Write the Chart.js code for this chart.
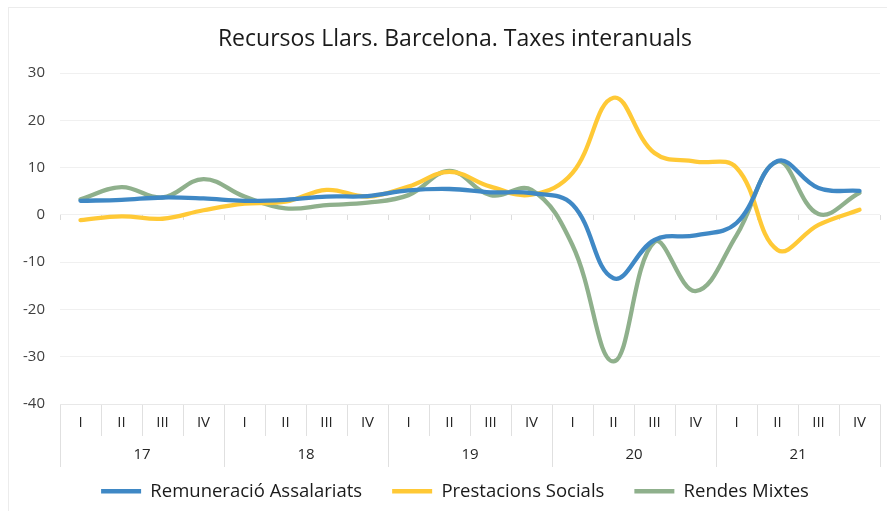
<!DOCTYPE html>
<html>
<head>
<meta charset="utf-8">
<script src="https://cdn.jsdelivr.net/npm/chart.js@4/dist/chart.umd.min.js"></script>
<style>
  html, body { margin: 0; padding: 0; background: #fff; }
  #wrap { position: relative; width: 887px; height: 511px; overflow: hidden; }
  #frame { position: absolute; left: 8px; top: 7px; width: 1000px; height: 1000px; border: 1px solid #ececec; box-sizing: border-box; }
  canvas { position: absolute; left: 0; top: 0; }
</style>
</head>
<body>
<div id="wrap">
  <div id="frame"></div>
  <canvas id="c" width="887" height="511"></canvas>
</div>
<script>
// ---- data ----
const quarters = ['I','II','III','IV','I','II','III','IV','I','II','III','IV','I','II','III','IV','I','II','III','IV'];
const years = ['17','18','19','20','21'];
const remuneracio = [3.0, 3.2, 3.7, 3.5, 3.0, 3.2, 3.9, 4.0, 5.2, 5.5, 4.8, 4.6, 2.2, -13.4, -5.3, -4.3, -1.7, 11.4, 5.7, 5.1];
const prestacions = [-1.1, -0.3, -0.8, 1.0, 2.4, 2.8, 5.3, 3.9, 6.0, 9.1, 6.0, 4.3, 8.9, 24.8, 13.1, 11.3, 10.0, -7.4, -2.1, 1.1];
const rendes = [3.3, 5.9, 3.7, 7.6, 3.9, 1.4, 2.1, 2.6, 4.2, 9.3, 4.2, 5.3, -6.4, -31.0, -5.7, -16.1, -4.3, 11.3, 0.2, 4.7];
const seriesNames = ['Remuneració Assalariats', 'Prestacions Socials', 'Rendes Mixtes'];
const yTicks = { min: -40, max: 30, step: 10 };

const FONT = "'Open Sans', sans-serif";
const colors = ['#3f88c5', '#ffc936', '#8fb08c'];

function ds(label, data, color) {
  return {
    label, data,
    borderColor: color, backgroundColor: color,
    borderWidth: 4.3, tension: 0.4, pointRadius: 0, pointHoverRadius: 0,
    borderCapStyle: 'round', borderJoinStyle: 'round', pointStyle: 'line'
  };
}

// move the legend row up a little (legend padding is also used as row spacing)
const legendShift = {
  id: 'legendShift',
  afterLayout(chart) {
    if (chart.legend) { chart.legend.top -= 15; }
  }
};

new Chart(document.getElementById('c'), {
  type: 'line',
  data: {
    labels: quarters,
    datasets: [
      ds(seriesNames[0], remuneracio, colors[0]),
      ds(seriesNames[1], prestacions, colors[1]),
      ds(seriesNames[2], rendes, colors[2])
    ]
  },
  plugins: [legendShift],
  options: {
    responsive: false,
    animation: false,
    events: [],
    layout: { padding: { left: 8, right: -15, top: 0, bottom: 0 } },
    plugins: {
      title: {
        display: true,
        text: 'Recursos Llars. Barcelona. Taxes interanuals',
        color: '#1a1a1a',
        font: { family: FONT, size: 23, weight: 'normal' },
        padding: { top: 26, bottom: 19.6 }
      },
      legend: {
        position: 'bottom',
        maxHeight: 44,
        labels: {
          usePointStyle: true,
          pointStyle: 'line',
          pointStyleWidth: 40,
          color: '#1a1a1a',
          font: { family: FONT, size: 18.5 },
          padding: 30
        }
      },
      tooltip: { enabled: false }
    },
    scales: {
      y: {
        min: yTicks.min, max: yTicks.max,
        ticks: { stepSize: yTicks.step, color: '#404040', font: { family: FONT, size: 15 }, padding: 15 },
        grid: { color: '#f0f0f0', drawTicks: false },
        border: { display: false },
        afterFit(s) { s.width = 52; }
      },
      yR: {
        type: 'linear',
        position: 'right',
        display: true,
        ticks: { display: false },
        grid: { display: false },
        border: { display: false },
        afterFit(s) { s.width = 22; }
      },
      x: {
        position: 'bottom',
        offset: true,
        ticks: { color: '#262626', font: { family: FONT, size: 15 }, padding: -22, maxRotation: 0, autoSkip: false },
        grid: { offset: true, drawOnChartArea: false, tickLength: 32, color: '#e0e0e0' },
        border: { display: true, color: '#e8e8e8' },
        afterFit(s) { s.height = 32; }
      },
      x2: {
        type: 'category',
        position: 'bottom',
        labels: years,
        offset: true,
        ticks: { color: '#262626', font: { family: FONT, size: 15 }, padding: -21, maxRotation: 0, autoSkip: false },
        grid: { offset: true, drawOnChartArea: false, tickLength: 31, color: '#e0e0e0' },
        border: { display: false },
        afterFit(s) { s.height = 31; }
      },
      x0: {
        type: 'category',
        position: { y: 0 },
        labels: quarters,
        offset: true,
        ticks: { display: false },
        grid: { offset: true, drawOnChartArea: false, tickLength: 5, color: '#dcdcdc' },
        border: { display: false }
      }
    }
  }
});
</script>
</body>
</html>
